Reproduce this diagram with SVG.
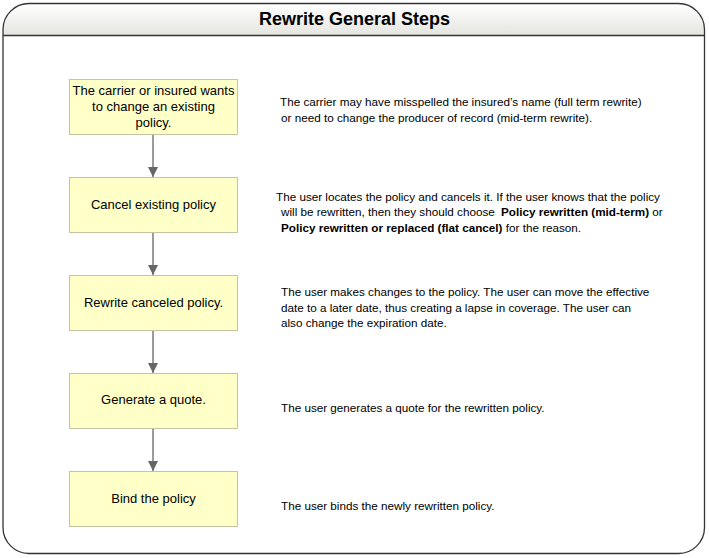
<svg xmlns="http://www.w3.org/2000/svg" width="709" height="558" viewBox="0 0 709 558">
<style>
.box{fill:#ffffc8;stroke:#c4c4a4;stroke-width:1}
.bt{font-family:"Liberation Sans",Arial,sans-serif;font-size:13px;fill:#000;text-anchor:middle}
.dt{font-family:"Liberation Sans",Arial,sans-serif;font-size:11.7px;fill:#000}
.b{font-weight:bold}
.conn{stroke:#666;stroke-width:1.3;fill:none;marker-end:url(#ah)}
</style>
<defs>
<linearGradient id="hg" x1="0" y1="0" x2="0" y2="1">
<stop offset="0" stop-color="#ffffff"/>
<stop offset="1" stop-color="#e4e4e0"/>
</linearGradient>
<clipPath id="fc"><rect x="3" y="3.5" width="701.5" height="550" rx="26"/></clipPath>
<marker id="ah" markerWidth="10" markerHeight="12" refX="10" refY="5" orient="auto" markerUnits="userSpaceOnUse">
<path d="M0,0 L10,5 L0,10 z" fill="#666"/>
</marker>
</defs>
<g id="frame">
<rect x="3" y="3.5" width="701.5" height="550" rx="26" fill="#fff"/>
<rect x="3" y="3.5" width="701.5" height="32" fill="url(#hg)" clip-path="url(#fc)"/>
<line x1="3" y1="35.5" x2="704.5" y2="35.5" stroke="#333" stroke-width="1.3"/>
<rect x="3" y="3.5" width="701.5" height="550" rx="26" fill="none" stroke="#333" stroke-width="1.3"/>
<text x="354.5" y="25" text-anchor="middle" font-family="'Liberation Sans',Arial,sans-serif" font-size="18" font-weight="bold">Rewrite General Steps</text>
</g>
<g id="connectors">
<line class="conn" x1="153" y1="134" x2="153" y2="177"/>
<line class="conn" x1="153" y1="232" x2="153" y2="275"/>
<line class="conn" x1="153" y1="330" x2="153" y2="373"/>
<line class="conn" x1="153" y1="428" x2="153" y2="471"/>
</g>
<g id="n1">
<rect class="box" x="69.5" y="79.5" width="168" height="55"/>
<text class="bt" x="153.5" y="95">The carrier or insured wants</text>
<text class="bt" x="153.5" y="111">to change an existing</text>
<text class="bt" x="153.5" y="127">policy.</text>
</g>
<g id="n2">
<rect class="box" x="69.5" y="177.5" width="168" height="55"/>
<text class="bt" x="153.5" y="209">Cancel existing policy</text>
</g>
<g id="n3">
<rect class="box" x="69.5" y="275.5" width="168" height="55"/>
<text class="bt" x="153.5" y="307">Rewrite canceled policy.</text>
</g>
<g id="n4">
<rect class="box" x="69.5" y="373.5" width="168" height="55"/>
<text class="bt" x="153.5" y="404">Generate a quote.</text>
</g>
<g id="n5">
<rect class="box" x="69.5" y="471.5" width="168" height="55"/>
<text class="bt" x="153.5" y="503">Bind the policy</text>
</g>
<g id="d1">
<text class="dt" x="280" y="106">The carrier may have misspelled the insured’s name (full term rewrite)</text>
<text class="dt" x="281" y="122">or need to change the producer of record (mid-term rewrite).</text>
</g>
<g id="d2">
<text class="dt" x="276" y="201">The user locates the policy and cancels it. If the user knows that the policy</text>
<text class="dt" x="281" y="216">will be rewritten, then they should choose <tspan class="b" dx="3">Policy rewritten (mid-term)</tspan> or</text>
<text class="dt" x="281" y="232"><tspan class="b">Policy rewritten or replaced (flat cancel)</tspan> for the reason.</text>
</g>
<g id="d3">
<text class="dt" x="281" y="296">The user makes changes to the policy. The user can move the effective</text>
<text class="dt" x="281" y="312">date to a later date, thus creating a lapse in coverage. The user can</text>
<text class="dt" x="281" y="327">also change the expiration date.</text>
</g>
<g id="d4">
<text class="dt" x="281" y="412">The user generates a quote for the rewritten policy.</text>
</g>
<g id="d5">
<text class="dt" x="281" y="510">The user binds the newly rewritten policy.</text>
</g>
</svg>
